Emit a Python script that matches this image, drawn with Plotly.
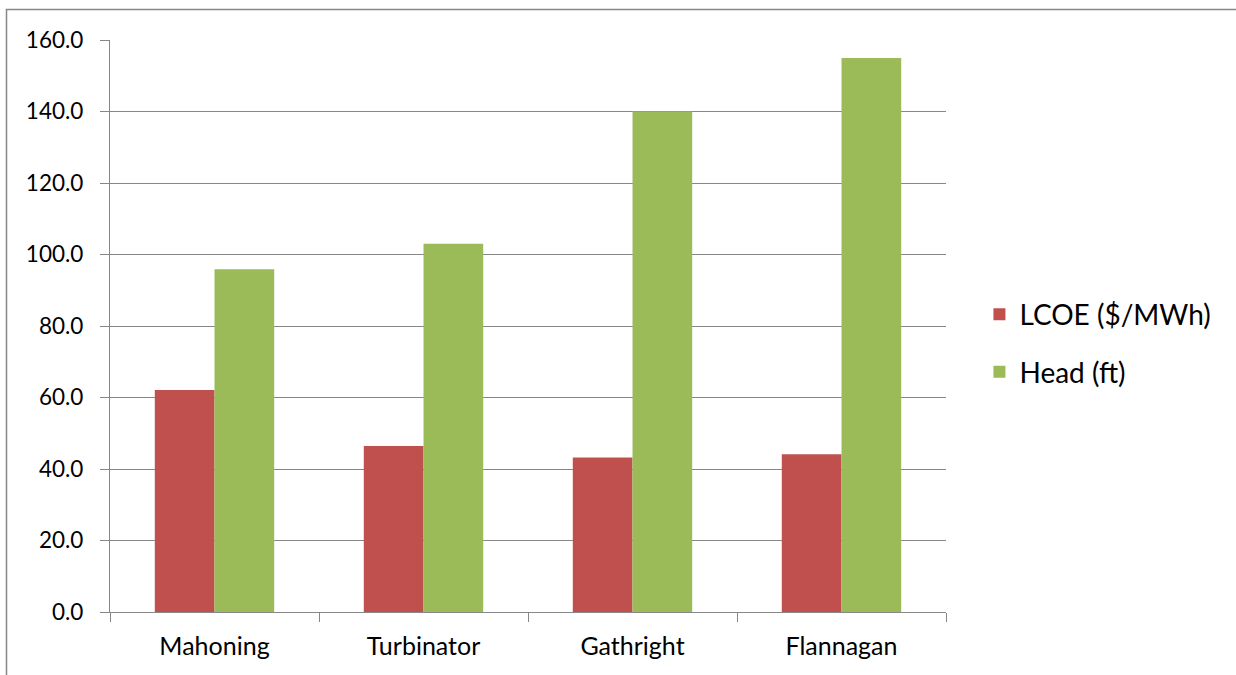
import plotly.graph_objects as go

# Project sites and their metrics
sites = ["Mahoning", "Turbinator", "Gathright", "Flannagan"]
lcoe = [62.1, 46.4, 43.2, 44.1]     # LCOE ($/MWh)
head = [95.9, 103.0, 140.0, 155.0]  # Head (ft)

y_ticks = [0, 20, 40, 60, 80, 100, 120, 140, 160]

AXIS_GREY = "#878787"
FONT = "Lato"

fig = go.Figure()
fig.add_trace(go.Bar(
    x=sites, y=lcoe, name="LCOE ($/MWh)",
    marker=dict(color="#C0504D", line=dict(width=0)),
    legendgroup="a",
))
fig.add_trace(go.Bar(
    x=sites, y=head, name="Head (ft)",
    marker=dict(color="#9BBB59", line=dict(width=0)),
    legendgroup="b",
))

fig.update_layout(
    width=1236, height=675,
    margin=dict(l=110, r=290, t=40, b=63),
    paper_bgcolor="white", plot_bgcolor="white",
    barmode="group", bargap=0.4286, bargroupgap=0,
    font=dict(family=FONT, color="#000000", size=22),
    legend=dict(
        x=1.04, y=0.47, xanchor="left", yanchor="middle",
        font=dict(family=FONT, size=28, color="#000000"),
        traceorder="grouped", tracegroupgap=18,
        bgcolor="rgba(0,0,0,0)",
    ),
    showlegend=True,
)

fig.update_yaxes(
    range=[0, 160], tickvals=y_ticks, tickformat=".1f",
    showgrid=True, gridcolor=AXIS_GREY, gridwidth=1.3,
    showline=True, linecolor=AXIS_GREY, linewidth=1.3,
    ticks="outside", ticklen=9, tickcolor=AXIS_GREY, tickwidth=1.3,
    zeroline=False, ticklabelstandoff=12,
    tickfont=dict(family=FONT, size=22.5, color="#000000"),
)
fig.update_xaxes(
    type="category", tickson="boundaries",
    showgrid=False,
    showline=True, linecolor=AXIS_GREY, linewidth=1.3,
    ticks="outside", ticklen=9, tickcolor=AXIS_GREY, tickwidth=1.3,
    tickfont=dict(family=FONT, size=25, color="#000000"),
    ticklabelstandoff=12,
)

# Chart frame
fig.add_shape(
    type="rect", xref="paper", yref="paper",
    x0=-0.1238, x1=1.36, y0=-0.13, y1=1.0533,
    line=dict(color=AXIS_GREY, width=1.5), fillcolor="rgba(0,0,0,0)",
    layer="below",
)

fig.write_html("out.html")
